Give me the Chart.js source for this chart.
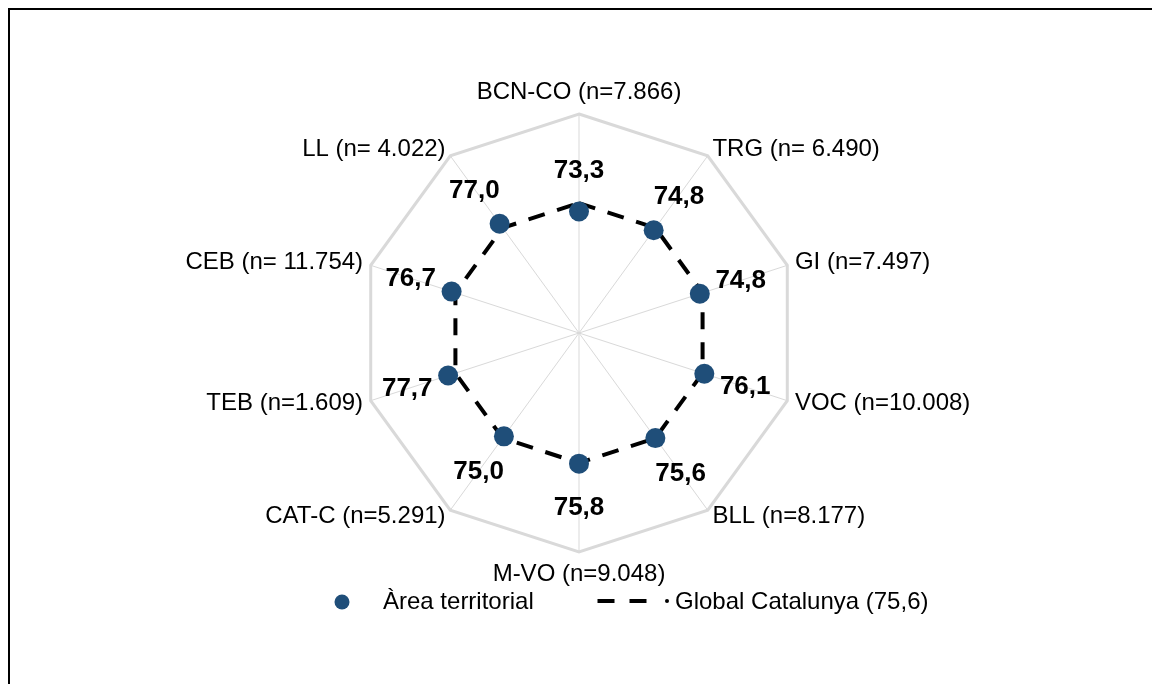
<!DOCTYPE html>
<html>
<head>
<meta charset="utf-8">
<script src="https://cdn.jsdelivr.net/npm/chart.js@4/dist/chart.umd.min.js"></script>
<style>
  html, body { margin: 0; padding: 0; background: #ffffff; }
  canvas { display: block; }
</style>
</head>
<body>
<canvas id="chart" width="1152" height="684"></canvas>
<script>
// ---- Data ----
const categories = [
  'BCN-CO (n=7.866)', 'TRG (n= 6.490)', 'GI (n=7.497)', 'VOC (n=10.008)', 'BLL (n=8.177)',
  'M-VO (n=9.048)', 'CAT-C (n=5.291)', 'TEB (n=1.609)', 'CEB (n= 11.754)', 'LL (n= 4.022)'
];
const areaValues = [73.3, 74.8, 74.8, 76.1, 75.6, 75.8, 75.0, 77.7, 76.7, 77.0];
const globalValues = [75.6, 75.6, 75.6, 75.6, 75.6, 75.6, 75.6, 75.6, 75.6, 75.6];
const seriesNames = ['Àrea territorial', 'Global Catalunya (75,6)'];
const scaleMin = 40;
const scaleMax = 100;

// ---- Styles ----
const DOT_COLOR = '#1F4E79';
const LINE_COLOR = '#000000';
const GRID_COLOR = '#D9D9D9';
const FONT_FAMILY = '"Liberation Sans", Arial, Helvetica, sans-serif';

const fmt = v => v.toFixed(1).replace('.', ',');

const framePlugin = {
  id: 'frame',
  beforeDraw(chart) {
    const ctx = chart.ctx;
    ctx.save();
    ctx.fillStyle = '#ffffff';
    ctx.fillRect(0, 0, chart.width, chart.height);
    ctx.strokeStyle = '#000000';
    ctx.lineWidth = 2;
    ctx.strokeRect(9, 9, chart.width + 20, chart.height + 20);
    ctx.restore();
  }
};

const categoryLabelPlugin = {
  id: 'categoryLabels',
  afterDraw(chart) {
    const scale = chart.scales.r;
    const ctx = chart.ctx;
    ctx.save();
    ctx.font = '24px ' + FONT_FAMILY;
    ctx.fillStyle = '#000000';
    ctx.textBaseline = 'middle';
    const labels = chart.data.labels;
    for (let i = 0; i < labels.length; i++) {
      const pos = scale.getPointPosition(i, scale.drawingArea + 8);
      const deg = Math.round(scale.getIndexAngle(i) * 180 / Math.PI) % 360;
      let y = pos.y;
      if (deg === 0) { ctx.textAlign = 'center'; y -= 14; }
      else if (deg === 180) { ctx.textAlign = 'center'; y += 14; }
      else if (deg < 180) { ctx.textAlign = 'left'; }
      else { ctx.textAlign = 'right'; }
      ctx.fillText(labels[i], pos.x, y);
    }
    ctx.restore();
  }
};

const dataLabelPlugin = {
  id: 'dataLabels',
  afterDatasetsDraw(chart) {
    const scale = chart.scales.r;
    const meta = chart.getDatasetMeta(0);
    const values = chart.data.datasets[0].data;
    const ctx = chart.ctx;
    ctx.save();
    ctx.font = 'bold 26px ' + FONT_FAMILY;
    ctx.fillStyle = '#000000';
    ctx.textAlign = 'center';
    ctx.textBaseline = 'middle';
    meta.data.forEach((pt, i) => {
      const a = scale.getIndexAngle(i);
      const s = Math.sin(a), c = Math.cos(a);
      const dx = s * 43;
      const dy = -c * (c > 0 ? 41 : 44);
      ctx.fillText(fmt(values[i]), pt.x + dx, pt.y + dy);
    });
    ctx.restore();
  }
};

const legendPlugin = {
  id: 'customLegend',
  afterDraw(chart) {
    const ctx = chart.ctx;
    const ds = chart.data.datasets;
    const y = 602;
    ctx.save();
    // marker for series 0
    ctx.fillStyle = ds[0].pointBackgroundColor;
    ctx.beginPath();
    ctx.arc(342, y, 7.5, 0, Math.PI * 2);
    ctx.fill();
    ctx.font = '24px ' + FONT_FAMILY;
    ctx.fillStyle = '#000000';
    ctx.textBaseline = 'middle';
    ctx.textAlign = 'left';
    ctx.fillText(ds[0].label, 383, y);
    // dashed line for series 1
    ctx.strokeStyle = ds[1].borderColor;
    ctx.lineWidth = 4;
    ctx.setLineDash([17, 15]);
    ctx.beginPath();
    ctx.moveTo(597.5, y - 1);
    ctx.lineTo(647, y - 1);
    ctx.stroke();
    ctx.setLineDash([]);
    ctx.fillStyle = ds[1].borderColor;
    ctx.beginPath();
    ctx.arc(667, y - 1, 2, 0, Math.PI * 2);
    ctx.fill();
    ctx.fillStyle = '#000000';
    ctx.fillText(ds[1].label, 675, y);
    ctx.restore();
  }
};

new Chart(document.getElementById('chart'), {
  type: 'radar',
  data: {
    labels: categories,
    datasets: [
      {
        label: seriesNames[0],
        data: areaValues,
        showLine: false,
        fill: false,
        borderWidth: 0,
        backgroundColor: 'transparent',
        pointRadius: 10,
        pointHoverRadius: 10,
        pointBackgroundColor: DOT_COLOR,
        pointBorderWidth: 0,
        order: 0
      },
      {
        label: seriesNames[1],
        data: globalValues,
        fill: false,
        borderColor: LINE_COLOR,
        backgroundColor: 'transparent',
        borderWidth: 4,
        borderDash: [17, 13],
        borderCapStyle: 'butt',
        pointRadius: 0,
        pointHoverRadius: 0,
        order: 1
      }
    ]
  },
  options: {
    responsive: false,
    animation: false,
    devicePixelRatio: 1,
    layout: { padding: { top: 114, bottom: 132, left: 6, right: 0 } },
    plugins: {
      legend: { display: false },
      tooltip: { enabled: false },
      title: { display: false }
    },
    elements: { line: { tension: 0 } },
    scales: {
      r: {
        min: scaleMin,
        max: scaleMax,
        beginAtZero: false,
        ticks: { display: false, stepSize: scaleMax - scaleMin },
        grid: { color: GRID_COLOR, lineWidth: 3, circular: false },
        angleLines: { color: GRID_COLOR, lineWidth: 1 },
        pointLabels: { display: false }
      }
    }
  },
  plugins: [framePlugin, categoryLabelPlugin, dataLabelPlugin, legendPlugin]
});
</script>
</body>
</html>
